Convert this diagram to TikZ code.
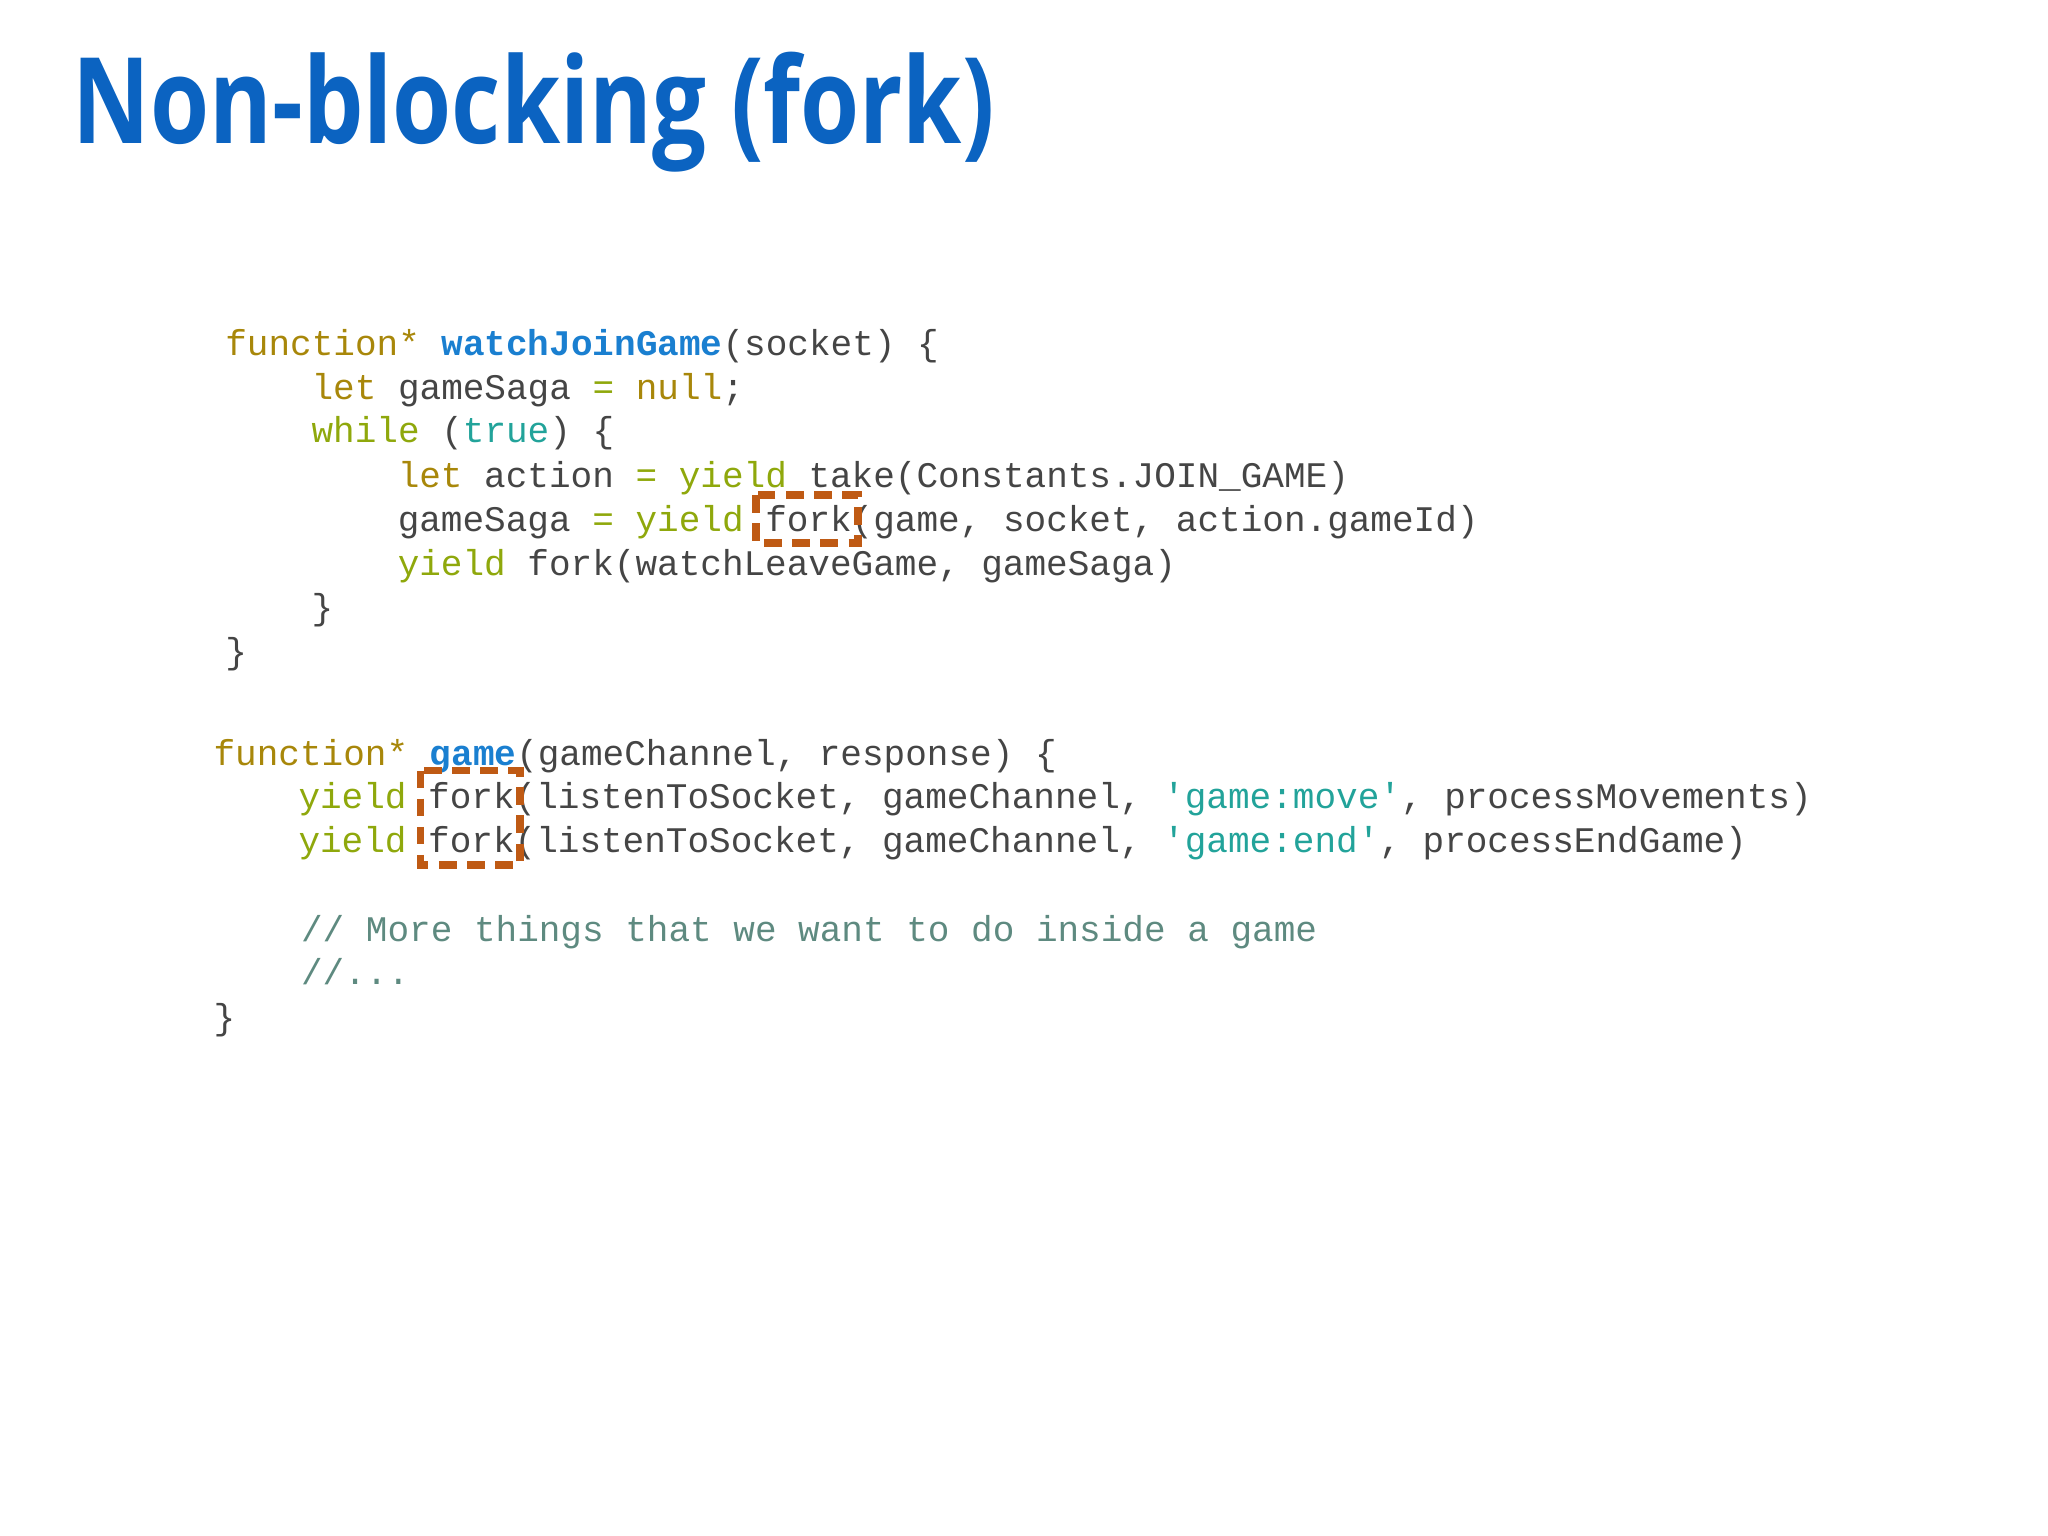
\documentclass[tikz,border=0pt]{standalone}
\usepackage{fontspec}
\setmonofont{Liberation Mono}
\newfontfamily\titlefont{Open Sans}
\definecolor{kw}{HTML}{A8870A}
\definecolor{yl}{HTML}{8FA80C}
\definecolor{st}{HTML}{22A39A}
\definecolor{fn}{HTML}{1A7FD0}
\definecolor{cm}{HTML}{5E8A80}
\definecolor{tx}{HTML}{454545}
\definecolor{ttl}{HTML}{0B63C1}
\definecolor{bx}{HTML}{BF5A14}
\newcommand{\K}[1]{\textcolor{kw}{#1}}
\newcommand{\Y}[1]{\textcolor{yl}{#1}}
\newcommand{\Sx}[1]{\textcolor{st}{#1}}
\newcommand{\F}[1]{\textcolor{fn}{\bfseries #1}}
\begin{document}
\begin{tikzpicture}[x=0.01306cm,y=-0.01306cm,
  code/.style={anchor=base west,inner sep=0pt,font=\fontsize{10.25}{12}\ttfamily,text=tx},
  hl/.style={draw=bx,line width=2.2pt,dash pattern=on 5pt off 3pt}]
\useasboundingbox (0,0) rectangle (1568,1176);
\node[anchor=west,inner sep=0pt,text=ttl] (title) at (55,86) {\scalebox{0.8}[1]{\fontsize{34}{40}\titlefont\bfseries Non-blocking (fork)}};
\node[code] (l1) at (172,272) {\K{function*} \F{watchJoinGame}(socket) \{};
\node[code] (l2) at (238,306) {\K{let} gameSaga \Y{=} \K{null};};
\node[code] (l3) at (238,339) {\Y{while} (\Sx{true}) \{};
\node[code] (l4) at (304,373) {\K{let} action \Y{=} \Y{yield} take(Constants.JOIN\_GAME)};
\node[code] (l5) at (304,407) {gameSaga \Y{=} \Y{yield} fork(game, socket, action.gameId)};
\node[code] (l6) at (304,441) {\Y{yield} fork(watchLeaveGame, gameSaga)};
\node[code] (l7) at (238,474) {\}};
\node[code] (l8) at (172,508) {\}};
\node[code] (m1) at (163,586) {\K{function*} \F{game}(gameChannel, response) \{};
\node[code] (m2) at (228,619) {\Y{yield} fork(listenToSocket, gameChannel, \Sx{'game:move'}, processMovements)};
\node[code] (m3) at (228,653) {\Y{yield} fork(listenToSocket, gameChannel, \Sx{'game:end'}, processEndGame)};
\node[code,text=cm] (m4) at (230,721) {// More things that we want to do inside a game};
\node[code,text=cm] (m5) at (230,754) {//...};
\node[code] (m6) at (163,788) {\}};
\draw[hl] (579,379) rectangle (657,416);
\draw[hl] (322,590) rectangle (398,662);
\end{tikzpicture}
\end{document}
